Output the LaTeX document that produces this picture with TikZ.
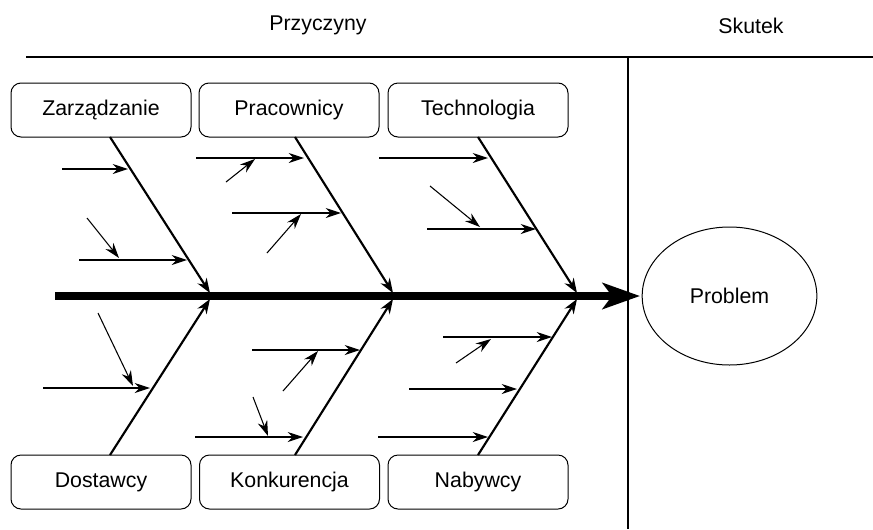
\documentclass[tikz,border=0pt]{standalone}
\usepackage{fontspec}
\setmainfont{Liberation Sans}
\usetikzlibrary{arrows.meta,shapes.geometric}
\begin{document}
\begin{tikzpicture}[x=0.75pt,y=-0.75pt,
  every node/.style={font=\fontsize{16}{19}\selectfont},
  catbox/.style={draw,line width=0.75pt,rounded corners=7.5pt,minimum width=135pt,minimum height=40.5pt,inner sep=0pt},
  bone/.style={line width=1.6pt,-{Stealth[length=11pt,width=8pt]}},
  twig/.style={line width=0.8pt,-{Stealth[length=11.5pt,width=7.5pt]}},
  spine/.style={line width=6pt,-{Stealth[length=28pt,width=19.5pt,inset=7pt]}},
  divider/.style={line width=1.6pt}]
\useasboundingbox (0,0) rectangle (873,529);
% headings and frame
\node (przy) at (318,25) {Przyczyny};
\node (skut) at (751,26) {Skutek};
\coordinate (tl) at (26,57);
\coordinate (tr) at (873,57);
\coordinate (vt) at (628,57);
\coordinate (vb) at (628,529);
\draw[line width=2pt] (tl) -- (tr);
\draw[divider] (vt) -- (vb);
% effect
\node[draw,ellipse,line width=0.75pt,minimum width=131pt,minimum height=103.5pt,inner sep=0pt] (prob) at (729.5,296) {Problem};
% category boxes
\node[catbox] (zar) at (101,110) {Zarządzanie};
\node[catbox] (pra) at (289,110) {Pracownicy};
\node[catbox] (tec) at (478,110) {Technologia};
\node[catbox] (dos) at (101,482) {Dostawcy};
\node[catbox] (kon) at (289.5,482) {Konkurencja};
\node[catbox] (nab) at (478,482) {Nabywcy};
% spine
\coordinate (s0) at (55,296);
\coordinate (s1) at (640,296);
\draw[spine] (s0) -- (s1);
% bones
\coordinate (zs) at (110,137); \coordinate (ze) at (210,293);
\coordinate (ps) at (295,137); \coordinate (pe) at (393,293);
\coordinate (ts) at (478,137); \coordinate (te) at (577,293);
\coordinate (ds) at (110,455); \coordinate (de) at (210,299);
\coordinate (ks) at (295,455); \coordinate (ke) at (393,299);
\coordinate (ns) at (478,455); \coordinate (ne) at (577,299);
\draw[bone] (zs) -- (ze);
\draw[bone] (ps) -- (pe);
\draw[bone] (ts) -- (te);
\draw[bone] (ds) -- (de);
\draw[bone] (ks) -- (ke);
\draw[bone] (ns) -- (ne);
% twigs: Zarzadzanie
\coordinate (z1a) at (62,169); \coordinate (z1b) at (128,169);
\coordinate (z2a) at (79,260); \coordinate (z2b) at (187,260);
\coordinate (z3a) at (87,218); \coordinate (z3b) at (119,258);
\draw[twig] (z1a) -- (z1b);
\draw[twig] (z2a) -- (z2b);
\draw[twig] (z3a) -- (z3b);
% Pracownicy
\coordinate (p1a) at (196,158); \coordinate (p1b) at (304,158);
\coordinate (p2a) at (226,182); \coordinate (p2b) at (255,159);
\coordinate (p3a) at (232,213); \coordinate (p3b) at (341,213);
\coordinate (p4a) at (267,253); \coordinate (p4b) at (301,214);
\draw[twig] (p1a) -- (p1b);
\draw[twig] (p2a) -- (p2b);
\draw[twig] (p3a) -- (p3b);
\draw[twig] (p4a) -- (p4b);
% Technologia
\coordinate (t1a) at (379,158); \coordinate (t1b) at (488,158);
\coordinate (t2a) at (430,186); \coordinate (t2b) at (480,227);
\coordinate (t3a) at (427,229); \coordinate (t3b) at (536,229);
\draw[twig] (t1a) -- (t1b);
\draw[twig] (t2a) -- (t2b);
\draw[twig] (t3a) -- (t3b);
% Dostawcy
\coordinate (d1a) at (43,388); \coordinate (d1b) at (150,388);
\coordinate (d2a) at (98,313); \coordinate (d2b) at (133,386);
\draw[twig] (d1a) -- (d1b);
\draw[twig] (d2a) -- (d2b);
% Konkurencja
\coordinate (k1a) at (252,350); \coordinate (k1b) at (360,350);
\coordinate (k2a) at (283,391); \coordinate (k2b) at (318,351);
\coordinate (k3a) at (253,397); \coordinate (k3b) at (268,436);
\coordinate (k4a) at (195,437); \coordinate (k4b) at (303,437);
\draw[twig] (k1a) -- (k1b);
\draw[twig] (k2a) -- (k2b);
\draw[twig] (k3a) -- (k3b);
\draw[twig] (k4a) -- (k4b);
% Nabywcy
\coordinate (n1a) at (443,337); \coordinate (n1b) at (552,337);
\coordinate (n2a) at (456,363); \coordinate (n2b) at (491,339);
\coordinate (n3a) at (409,389); \coordinate (n3b) at (517,389);
\coordinate (n4a) at (378,437); \coordinate (n4b) at (488,437);
\draw[twig] (n1a) -- (n1b);
\draw[twig] (n2a) -- (n2b);
\draw[twig] (n3a) -- (n3b);
\draw[twig] (n4a) -- (n4b);
\end{tikzpicture}
\end{document}
